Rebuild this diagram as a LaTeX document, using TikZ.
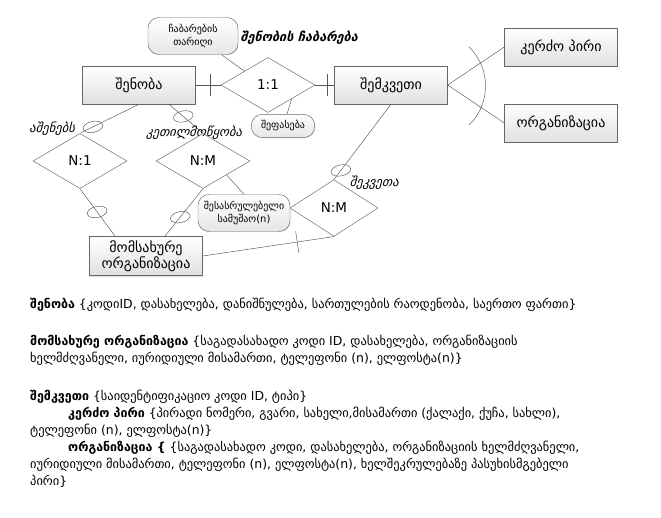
\documentclass[tikz,border=0pt]{standalone}
\usepackage{fontspec}
\setmainfont{DejaVu Sans}
\newfontfamily\geoit[FakeSlant=0.25]{DejaVu Sans}
\usepackage{tikz}
\usetikzlibrary{positioning, shapes.geometric, shadows, calc}

\begin{document}
\begin{tikzpicture}[x=0.3mm, y=-0.3mm,
  line/.style={draw=black!65},
  entity/.style={draw=black!60, rectangle, top color=white, bottom color=black!12, drop shadow={opacity=0.25, shadow xshift=0.8pt, shadow yshift=-0.8pt}, minimum width=33.9mm, minimum height=11.4mm, font=\fontsize{12}{14}\selectfont, align=center},
  rel/.style={draw=black!60, diamond, fill=white, inner sep=0pt, minimum width=28.2mm, minimum height=16.5mm, font=\fontsize{11.5}{13}\selectfont},
  attr/.style={draw=black!60, rectangle, rounded corners=3.3mm, top color=white, bottom color=black!10, drop shadow={opacity=0.2, shadow xshift=0.6pt, shadow yshift=-0.6pt}, font=\fontsize{8.5}{11}\selectfont, align=center, inner sep=1pt},
  omark/.style={draw=black!65, ellipse, inner sep=0pt, minimum width=6mm, minimum height=3.3mm, rotate=12},
  tickbar/.style={draw=black!65, sloped, inner sep=0pt, minimum width=0pt, minimum height=6.5mm},
  rlabel/.style={font=\geoit\fontsize{10.8}{12}\selectfont},
  para/.style={anchor=north west, align=left, inner sep=0pt, font=\fontsize{10.6}{14.5}\selectfont}]

\useasboundingbox (0,0) rectangle (661,518);

% entities
\node[entity] (shenoba) at (139,85) {შენობა};
\node[entity] (shemkveti) at (391,85) {შემკვეთი};
\node[entity] (kerdzo) at (561,47) {კერძო პირი};
\node[entity] (organizacia) at (561,123) {ორგანიზაცია};
\node[entity] (momsakhure) at (146,256) {მომსახურე\\ორგანიზაცია};

% relationships
\node[rel] (r11) at (268,85) {1:1};
\node[rel] (rn1) at (80,161) {N:1};
\node[rel] (rnm) at (203,161) {N:M};
\node[rel, minimum width=26.4mm, minimum height=17mm] (rnmb) at (334,208) {N:M};

% attributes
\node[attr, minimum width=27mm, minimum height=11.1mm] (chabareba) at (193,36) {ჩაბარების\\თარიღი};
\node[attr, minimum width=19mm, minimum height=7mm] (shepaseba) at (283,126) {შეფასება};
\node[attr, minimum width=27.6mm, minimum height=11.1mm] (samushao) at (244,213) {შესასრულებელი\\სამუშაო(n)};

% connectors
\draw[line] (shenoba.east) -- (r11.west) node[tickbar, pos=0.58] {};
\draw[line] (r11.east) -- (shemkveti.west) node[tickbar, pos=0.63] {};
\draw[line] ([xshift=-5mm]chabareba.south east) -- (r11.north west);
\draw[line] ([xshift=1.2mm]shepaseba.north) -- (r11.south east);
\draw[line] (shenoba.south) -- (rn1.north) node[omark, pos=0.78] {};
\draw[line] ([xshift=9mm]shenoba.south) -- (rnm.north) node[omark, pos=0.42] {};
\draw[line] (rn1.south) -- ([xshift=-9.3mm]momsakhure.north) node[omark, pos=0.49] {};
\draw[line] (rnm.south) -- ([xshift=5.7mm]momsakhure.north) node[omark, pos=0.6] {};
\draw[line] (rnm.south east) -- (samushao.north);
\draw[line] (shemkveti.south) -- (rnmb.north) node[omark, pos=0.88] {};
\draw[line] (rnmb.south) -- (momsakhure.east) node[tickbar, pos=0.28] {};
\draw[line] (shemkveti.east) -- (kerdzo.west);
\draw[line] (shemkveti.east) -- (organizacia.west);
\draw[line] (469,47) .. controls (491,68) and (491,104) .. (469,125);

% relationship names
\node[font=\geoit\bfseries\fontsize{10.8}{12}\selectfont] (chabarebaname) at (299,38) {შენობის ჩაბარება};
\node[rlabel] (ashenebs) at (52,129) {აშენებს};
\node[rlabel] (ketilmotsqoba) at (194,133) {კეთილმოწყობა};
\node[rlabel] (shekveta) at (374,183) {შეკვეთა};

% descriptions
\node[para] (t1) at (30,298) {\textbf{შენობა} \{კოდიID, დასახელება, დანიშნულება, სართულების რაოდენობა, საერთო ფართი\}};
\node[para] (t2) at (30,335) {\textbf{მომსახურე ორგანიზაცია} \{საგადასახადო კოდი ID, დასახელება, ორგანიზაციის\\ხელმძღვანელი, იურიდიული მისამართი, ტელეფონი (n), ელფოსტა(n)\}};
\node[para] (t3) at (30,390) {\textbf{შემკვეთი} \{საიდენტიფიკაციო კოდი ID, ტიპი\}\\
\hspace*{11.4mm}\textbf{კერძო პირი} \{პირადი ნომერი, გვარი, სახელი,მისამართი (ქალაქი, ქუჩა, სახლი),\\
ტელეფონი (n), ელფოსტა(n)\}\\
\hspace*{11.4mm}\textbf{ორგანიზაცია \{} \{საგადასახადო კოდი, დასახელება, ორგანიზაციის ხელმძღვანელი,\\
იურიდიული მისამართი, ტელეფონი (n), ელფოსტა(n), ხელშეკრულებაზე პასუხისმგებელი\\
პირი\}};

\end{tikzpicture}
\end{document}
